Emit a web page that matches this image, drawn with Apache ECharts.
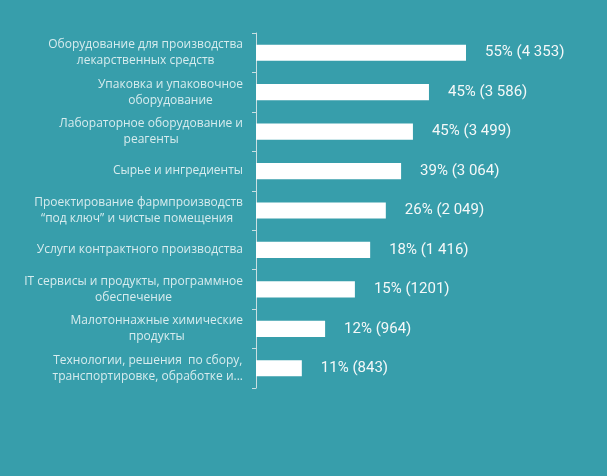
<!DOCTYPE html>
<html><head><meta charset="utf-8">
<script src="https://cdn.jsdelivr.net/npm/echarts@6/dist/echarts.min.js"></script>
<style>html,body{margin:0;padding:0;background:#379eab}#c{width:607px;height:476px}</style>
</head><body><div id="c"></div>
<script>
const categories = [
  "Оборудование для производства\nлекарственных средств",
  "Упаковка и упаковочное\nоборудование",
  "Лабораторное оборудование и\nреагенты",
  "Сырье и ингредиенты",
  "Проектирование фармпроизводств\n“под ключ” и чистые помещения ",
  "Услуги контрактного производства",
  "IT сервисы и продукты, программное\nобеспечение",
  "Малотоннажные химические\nпродукты",
  "Технологии, решения  по сбору,\nтранспортировке, обработке и..."
];
// bar lengths as drawn in the picture (relative units, first bar = 55)
const barLengths = [55, 45.3, 41.1, 38.0, 34.0, 29.9, 25.9, 18.1, 12.0];
const percents = ["55%", "45%", "45%", "39%", "26%", "18%", "15%", "12%", "11%"];
const counts = ["4 353", "3 586", "3 499", "3 064", "2 049", "1 416", "1201", "964", "843"];

// category labels: block right-aligned against the axis, lines centred inside the block
const ctx = document.createElement('canvas').getContext('2d');
ctx.font = '12px "Open Sans"';
const labelGap = 13;
const catLabelPoints = categories.map((c, i) => {
  const W = Math.max(...c.split('\n').map(s => ctx.measureText(s).width));
  return {value: [0, i], label: {offset: [-(W / 2 + labelGap), 0]}};
});

const chart = echarts.init(document.getElementById('c'), null, {renderer: 'canvas'});
chart.setOption({
  backgroundColor: '#379eab',
  animation: false,
  grid: {left: 256, right: 51, top: 33, bottom: 88, containLabel: false},
  xAxis: {type: 'value', min: 0, max: 55 * 300 / 210, show: false},
  yAxis: {
    type: 'category', inverse: true, data: categories,
    axisLine: {show: true, lineStyle: {color: '#c9dfe2', width: 1}},
    axisTick: {show: true, length: 4, lineStyle: {color: '#c9dfe2'}},
    axisLabel: {show: false}
  },
  series: [{
    type: 'bar', data: barLengths, barCategoryGap: '59%',
    itemStyle: {color: '#ffffff'},
    label: {
      show: true, position: 'right', distance: 19,
      color: '#f4f8f8', fontFamily: 'Roboto', fontSize: 15,
      formatter: p => percents[p.dataIndex] + ' (' + counts[p.dataIndex] + ')'
    }
  }, {
    type: 'scatter', data: catLabelPoints, symbolSize: 0, clip: false, silent: true, z: 5,
    label: {
      show: true, position: 'inside', align: 'center', verticalAlign: 'middle',
      color: '#ffffff', fontFamily: 'Open Sans', fontSize: 12, lineHeight: 16,
      formatter: p => categories[p.dataIndex]
    }
  }]
});
</script></body></html>
